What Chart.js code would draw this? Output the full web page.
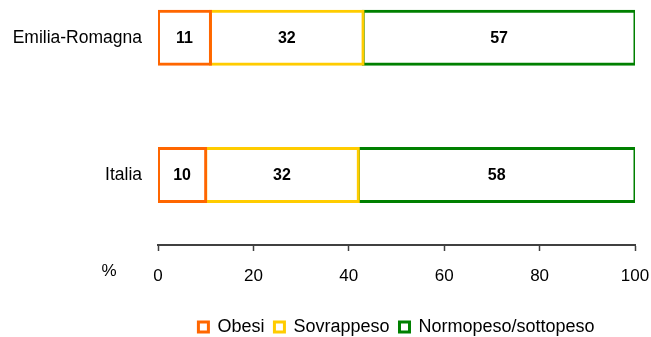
<!DOCTYPE html>
<html lang="it">
<head>
    <meta charset="UTF-8">
    <title>Stato nutrizionale</title>
    <script src="https://cdn.jsdelivr.net/npm/chart.js"></script>
    <style>
        body { margin: 0; background: #fff; }
        #wrap { width: 651px; height: 337px; }
    </style>
</head>
<body>
<div id="wrap">
    <canvas id="bmiChart" width="651" height="337"></canvas>
</div>

<script>
    // categorie e percentuali
    const areas = ['Emilia-Romagna', 'Italia'];
    const obesi = [11, 10];
    const sovrappeso = [32, 32];
    const normopeso = [57, 58];
    const xTicks = [0, 20, 40, 60, 80, 100];

    const FONT = "'Liberation Sans', Arial, sans-serif";

    function toPoints(values) {
        return values.map((v, i) => ({x: v, y: i}));
    }

    function makeSet(label, values, color) {
        return {
            label: label,
            data: toPoints(values),
            backgroundColor: '#ffffff',
            borderColor: color,
            borderWidth: 3,
            borderSkipped: false,
            inflateAmount: 1.5,
            barThickness: 53
        };
    }

    // numeri in grassetto al centro di ogni segmento
    const valueLabels = {
        id: 'valueLabels',
        afterDatasetsDraw(chart) {
            const ctx = chart.ctx;
            ctx.save();
            ctx.font = 'bold 16px ' + FONT;
            ctx.fillStyle = '#000';
            ctx.textAlign = 'center';
            ctx.textBaseline = 'middle';
            chart.data.datasets.forEach((ds, i) => {
                chart.getDatasetMeta(i).data.forEach((bar, j) => {
                    ctx.fillText(ds.data[j].x, (bar.x + bar.base) / 2, bar.y + 1);
                });
            });
            ctx.restore();
        }
    };

    // simbolo "%" a sinistra delle etichette dell'asse x
    const percentSign = {
        id: 'percentSign',
        afterDraw(chart) {
            const sx = chart.scales.x;
            const ctx = chart.ctx;
            ctx.save();
            ctx.font = '17px ' + FONT;
            ctx.fillStyle = '#000';
            ctx.textAlign = 'center';
            ctx.textBaseline = 'middle';
            ctx.fillText('%', 109, sx.top + 26);
            ctx.restore();
        }
    };

    new Chart(document.getElementById('bmiChart'), {
        type: 'bar',
        data: {
            datasets: [
                makeSet('Obesi', obesi, '#ff6600'),
                makeSet('Sovrappeso', sovrappeso, '#ffcc00'),
                makeSet('Normopeso/sottopeso', normopeso, '#008000')
            ]
        },
        options: {
            indexAxis: 'y',
            responsive: false,
            animation: false,
            layout: {padding: {left: 0, right: 0, top: 2, bottom: -9}},
            plugins: {
                tooltip: {enabled: false},
                legend: {
                    position: 'bottom',
                    fullSize: false,
                    labels: {
                        color: '#000',
                        font: {family: FONT, size: 18},
                        boxWidth: 10,
                        boxHeight: 10,
                        padding: 10
                    }
                }
            },
            scales: {
                x: {
                    type: 'linear',
                    stacked: true,
                    min: 0,
                    max: 100,
                    afterBuildTicks: scale => {
                        scale.ticks = xTicks.map(v => ({value: v}));
                    },
                    afterFit: scale => {
                        scale.height = 63;
                        scale.paddingLeft = 0;
                        scale.paddingRight = 16;
                    },
                    grid: {
                        drawOnChartArea: false,
                        drawTicks: true,
                        tickLength: 6,
                        tickWidth: 1.5,
                        tickColor: '#404040'
                    },
                    border: {color: '#404040', width: 2},
                    ticks: {
                        color: '#000',
                        font: {family: FONT, size: 17},
                        padding: 15,
                        maxRotation: 0
                    }
                },
                y: {
                    type: 'linear',
                    stacked: true,
                    reverse: true,
                    offset: false,
                    min: -0.26,
                    max: 1.51,
                    afterBuildTicks: scale => {
                        scale.ticks = areas.map((a, i) => ({value: i}));
                    },
                    afterFit: scale => {
                        scale.width = 158;
                        scale.paddingTop = 0;
                        scale.paddingBottom = 0;
                    },
                    grid: {display: false, drawTicks: false},
                    border: {display: false},
                    ticks: {
                        color: '#000',
                        font: {family: FONT, size: 17.5},
                        padding: 16,
                        callback: v => areas[v]
                    }
                }
            }
        },
        plugins: [valueLabels, percentSign]
    });
</script>
</body>
</html>
